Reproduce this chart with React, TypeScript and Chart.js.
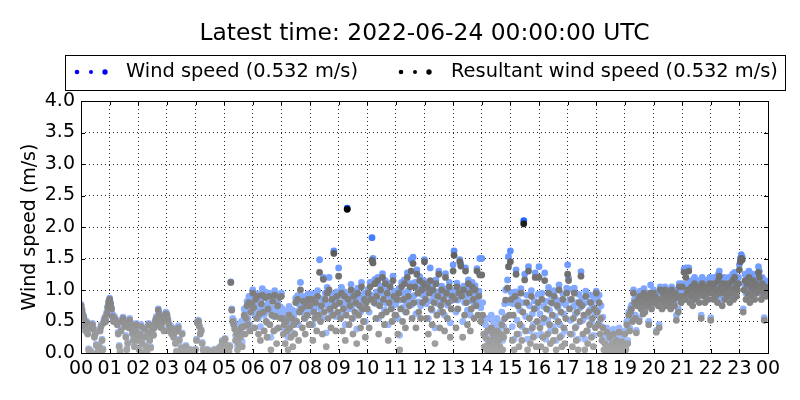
import React, { useEffect, useRef } from "react";
import { Chart, registerables } from "chart.js";

Chart.register(...registerables);

const titleText = "Latest time: 2022-06-24 00:00:00 UTC";
const windLabel = "Wind speed (0.532 m/s)";
const resultantLabel = "Resultant wind speed (0.532 m/s)";
const yAxisTitle = "Wind speed (m/s)";
const hourLabels = ["00","01","02","03","04","05","06","07","08","09","10","11","12","13","14","15","16","17","18","19","20","21","22","23","00"];
const yTickValues = [0, 0.5, 1, 1.5, 2, 2.5, 3, 3.5, 4];

// resultant wind speed, 30 readings per hour (m/s)
const resultantByHour: number[][] = [
  [0.75,0.68,0.60,0.55,0.42,0.35,0.48,0.30,0.05,0.00,0.02,0.40,0.45,0.38,0.25,0.30,0.12,0.00,0.03,0.10,0.35,0.42,0.20,0.05,0.48,0.55,0.50,0.62,0.72,0.80],
  [0.85,0.78,0.70,0.58,0.50,0.55,0.52,0.48,0.45,0.30,0.10,0.02,0.35,0.50,0.55,0.48,0.42,0.25,0.05,0.15,0.40,0.52,0.45,0.38,0.30,0.20,0.10,0.35,0.45,0.25],
  [0.20,0.05,0.30,0.42,0.15,0.00,0.25,0.38,0.10,0.02,0.30,0.45,0.20,0.08,0.35,0.42,0.28,0.40,0.50,0.55,0.45,0.68,0.60,0.52,0.40,0.48,0.58,0.35,0.55,0.62],
  [0.60,0.52,0.45,0.35,0.40,0.30,0.38,0.25,0.32,0.15,0.02,0.35,0.40,0.20,0.00,0.08,0.30,0.05,0.00,0.02,0.10,0.00,0.03,0.00,0.05,0.00,0.02,0.00,0.04,0.00],
  [0.05,0.20,0.48,0.50,0.42,0.30,0.35,0.15,0.05,0.00,0.02,0.00,0.05,0.00,0.00,0.03,0.00,0.00,0.02,0.00,0.05,0.00,0.00,0.02,0.00,0.08,0.00,0.10,0.18,0.05],
  [0.15,0.22,0.05,0.12,0.00,0.02,0.10,1.12,0.68,0.50,0.45,0.38,0.20,0.30,0.05,0.15,0.35,0.25,0.40,0.10,0.42,0.60,0.30,0.55,0.75,0.45,0.80,0.35,0.65,0.78],
  [0.95,0.72,0.40,0.85,0.55,0.90,0.30,0.62,0.20,0.78,0.92,0.65,0.35,0.88,0.50,0.25,0.70,0.90,0.45,0.05,0.60,0.82,0.35,0.92,0.58,0.15,0.75,0.40,0.88,0.55],
  [0.90,0.55,0.30,0.45,0.15,0.50,0.35,0.05,0.60,0.40,0.25,0.55,0.10,0.45,0.30,0.80,0.50,0.85,0.20,0.65,1.00,0.70,0.40,0.82,0.55,0.30,0.75,0.60,0.85,0.45],
  [0.75,0.45,0.85,0.20,0.65,0.55,0.80,0.35,0.90,0.60,1.28,0.50,0.75,0.30,1.17,0.65,0.85,0.10,0.95,0.55,1.00,0.70,0.40,0.85,0.60,1.58,0.75,0.35,0.90,0.65],
  [1.22,0.80,0.55,0.95,0.35,0.70,0.90,0.20,0.60,2.28,0.85,0.45,0.75,1.00,0.55,0.30,0.90,0.65,0.80,0.15,0.95,0.60,0.75,0.40,1.05,0.70,0.50,0.85,0.25,0.80],
  [0.70,0.95,0.40,1.05,0.85,1.47,1.43,0.80,1.10,0.55,0.90,1.15,0.30,0.75,1.00,0.60,1.20,0.85,0.45,1.10,0.65,0.95,0.20,0.80,1.05,0.70,0.50,1.15,0.90,0.60],
  [0.60,0.85,0.30,0.95,0.05,0.70,1.05,0.50,0.85,1.10,0.40,0.65,1.20,0.90,0.75,1.05,1.30,0.55,1.42,0.80,1.05,0.40,1.25,0.95,0.65,1.15,0.55,1.00,0.80,1.10],
  [1.45,0.85,0.55,1.05,0.30,0.95,1.15,0.70,0.45,1.00,0.80,0.15,1.10,0.60,0.90,1.25,0.40,0.75,1.00,0.65,0.85,0.35,1.20,0.95,0.55,0.80,1.05,0.25,0.70,0.90],
  [1.30,1.55,0.85,0.40,1.05,0.70,0.95,1.45,1.38,0.90,0.25,1.00,0.60,1.30,0.80,0.45,1.10,0.95,0.35,0.70,1.05,0.85,0.55,1.00,0.75,1.30,0.60,0.90,1.24,0.50],
  [1.24,0.60,0.30,0.10,0.25,0.05,0.35,0.15,0.00,0.20,0.40,0.10,0.30,0.05,0.25,0.15,0.35,0.00,0.20,0.10,0.30,0.45,0.05,0.25,0.55,0.84,0.35,1.03,1.37,0.60],
  [1.45,0.85,0.20,0.60,0.05,0.90,1.25,0.30,0.75,0.10,0.45,0.95,0.20,0.65,2.05,1.16,0.35,0.80,0.05,1.30,0.55,0.15,0.90,0.40,0.25,0.70,1.20,0.10,0.50,0.80],
  [1.20,0.40,0.10,0.85,0.25,0.55,1.15,0.05,0.70,0.30,0.95,0.45,0.15,0.80,0.60,0.20,0.90,0.35,0.05,0.75,0.50,1.00,0.25,0.65,0.10,0.85,0.40,0.15,0.55,0.95],
  [1.25,1.15,0.70,0.30,0.85,0.10,0.55,0.95,0.40,0.20,0.65,0.05,0.80,0.50,1.22,0.75,0.30,0.60,0.05,0.90,0.35,0.15,0.65,0.45,0.80,0.25,0.55,0.10,0.70,0.40],
  [0.95,0.65,0.45,0.80,0.30,0.55,0.20,0.40,0.05,0.15,0.00,0.33,0.10,0.02,0.25,0.05,0.00,0.15,0.30,0.02,0.08,0.20,0.00,0.12,0.33,0.05,0.00,0.18,0.02,0.10],
  [0.30,0.05,0.45,0.15,0.60,0.35,0.65,0.70,0.50,0.95,0.80,0.55,0.32,0.75,0.85,0.50,0.90,0.70,0.80,0.62,0.95,0.65,0.85,0.75,0.90,0.45,0.80,0.95,0.70,0.88],
  [0.95,0.80,0.90,0.33,0.85,0.75,0.40,1.00,0.85,0.70,0.95,0.80,1.00,0.90,0.75,0.85,0.95,0.80,0.70,1.00,0.90,0.85,0.75,0.95,0.52,0.88,0.65,1.05,0.90,0.80],
  [1.05,0.90,1.28,0.85,1.20,0.95,1.00,1.30,0.80,0.90,1.05,0.75,0.95,1.10,0.85,1.00,0.90,1.05,0.80,0.95,0.55,1.10,1.00,0.90,0.80,1.05,0.95,0.85,1.00,1.10],
  [0.52,0.95,1.05,0.85,1.10,0.90,1.00,0.80,1.15,1.22,0.95,1.05,0.75,1.00,1.10,0.85,0.95,1.05,0.90,1.10,0.80,1.00,0.95,1.15,0.85,1.20,1.05,0.90,1.00,1.10],
  [1.32,1.45,1.50,1.48,0.65,1.00,1.15,0.85,1.10,0.95,1.20,0.80,1.05,0.90,1.15,1.00,0.85,1.10,0.95,1.05,1.28,1.20,1.00,0.85,1.10,0.95,0.52,1.05,0.90,1.00],
];

// scalar wind speed, 30 readings per hour (m/s)
const windByHour: number[][] = [
  [0.77,0.70,0.62,0.58,0.45,0.37,0.50,0.33,0.07,0.01,0.04,0.43,0.47,0.40,0.28,0.33,0.14,0.01,0.05,0.12,0.38,0.45,0.22,0.07,0.52,0.57,0.53,0.65,0.74,0.82],
  [0.87,0.80,0.72,0.62,0.53,0.58,0.55,0.50,0.48,0.33,0.12,0.03,0.38,0.53,0.57,0.50,0.45,0.28,0.07,0.17,0.43,0.55,0.48,0.40,0.32,0.22,0.12,0.38,0.47,0.27],
  [0.22,0.06,0.32,0.45,0.17,0.01,0.27,0.40,0.12,0.03,0.32,0.47,0.22,0.10,0.37,0.45,0.30,0.43,0.53,0.58,0.48,0.70,0.63,0.55,0.42,0.50,0.60,0.37,0.58,0.65],
  [0.62,0.55,0.47,0.37,0.43,0.33,0.40,0.27,0.35,0.17,0.03,0.37,0.43,0.22,0.01,0.10,0.32,0.06,0.01,0.03,0.12,0.01,0.04,0.01,0.06,0.01,0.03,0.01,0.05,0.01],
  [0.06,0.22,0.50,0.52,0.44,0.32,0.37,0.17,0.06,0.01,0.03,0.01,0.06,0.01,0.01,0.04,0.01,0.01,0.03,0.01,0.06,0.01,0.01,0.03,0.01,0.09,0.01,0.12,0.20,0.06],
  [0.16,0.23,0.06,0.13,0.01,0.03,0.12,1.13,0.70,0.55,0.52,0.45,0.28,0.38,0.12,0.22,0.45,0.35,0.50,0.18,0.52,0.70,0.42,0.65,0.82,0.55,0.90,0.45,0.75,0.85],
  [1.00,0.78,0.62,0.91,0.75,0.94,0.55,0.70,0.42,0.86,1.02,0.74,0.60,0.97,0.66,0.48,0.79,0.95,0.68,0.25,0.71,0.88,0.58,0.99,0.69,0.38,0.80,0.62,0.92,0.73],
  [0.95,0.70,0.55,0.62,0.38,0.66,0.58,0.25,0.74,0.62,0.48,0.69,0.32,0.60,0.52,0.87,0.66,0.91,0.45,0.76,1.12,0.79,0.65,0.90,0.72,0.55,0.84,0.74,0.94,0.64],
  [0.83,0.68,0.94,0.45,0.77,0.72,0.90,0.60,0.99,0.75,1.48,0.70,0.86,0.55,1.20,0.78,0.95,0.32,1.04,0.73,1.20,0.80,0.65,0.93,0.76,1.62,0.84,0.58,0.97,0.79],
  [1.35,0.91,0.78,1.04,0.60,0.80,0.97,0.45,0.76,2.30,0.93,0.70,0.83,1.09,0.72,0.55,0.98,0.79,0.90,0.38,1.03,0.76,0.88,0.65,1.12,0.81,0.72,0.95,0.50,0.89],
  [0.84,1.01,0.65,1.12,0.92,1.83,1.50,0.86,1.17,0.78,0.97,1.20,0.55,0.82,1.06,0.80,1.26,0.93,0.68,1.15,0.79,1.02,0.45,0.90,1.10,0.83,0.72,1.22,0.98,0.77],
  [0.79,0.93,0.55,1.02,0.28,0.84,1.12,0.72,0.95,1.16,0.65,0.80,1.27,0.99,0.86,1.10,1.48,0.77,1.52,0.91,1.12,0.62,1.32,1.01,0.81,1.21,0.75,1.07,0.92,1.15],
  [1.48,0.94,0.78,1.11,0.55,1.01,1.35,0.83,0.68,1.07,0.91,0.40,1.16,0.79,0.97,1.30,0.65,0.84,1.06,0.80,0.95,0.60,1.26,1.02,0.76,0.92,1.12,0.48,0.83,0.99],
  [1.40,1.62,0.95,0.65,1.11,0.84,1.03,1.48,1.42,0.97,0.50,1.06,0.80,1.35,0.91,0.68,1.16,1.01,0.60,0.83,1.12,0.94,0.78,1.07,0.86,1.34,0.79,0.98,1.50,0.72],
  [1.50,0.80,0.52,0.30,0.45,0.22,0.55,0.35,0.12,0.40,0.60,0.28,0.50,0.20,0.45,0.32,0.55,0.10,0.38,0.25,0.48,0.65,0.20,0.42,0.78,1.00,0.58,1.16,1.53,0.80],
  [1.62,0.96,0.42,0.78,0.22,0.97,1.32,0.52,0.84,0.30,0.68,1.02,0.42,0.80,2.10,1.25,0.58,0.92,0.22,1.37,0.75,0.35,0.99,0.62,0.45,0.83,1.27,0.28,0.72,0.93],
  [1.37,0.62,0.30,0.95,0.48,0.74,1.27,0.22,0.82,0.52,1.04,0.68,0.35,0.91,0.79,0.42,0.99,0.58,0.20,0.84,0.72,1.08,0.45,0.80,0.28,0.94,0.62,0.35,0.76,1.03],
  [1.40,1.19,0.84,0.52,1.01,0.30,0.74,1.03,0.62,0.42,0.80,0.22,0.93,0.72,1.29,0.86,0.52,0.78,0.22,0.98,0.58,0.35,0.81,0.68,0.92,0.48,0.75,0.28,0.85,0.62],
  [0.98,0.85,0.68,0.92,0.52,0.75,0.42,0.57,0.18,0.28,0.05,0.40,0.20,0.08,0.35,0.12,0.05,0.22,0.38,0.06,0.15,0.28,0.04,0.18,0.40,0.10,0.04,0.25,0.06,0.15],
  [0.35,0.10,0.50,0.20,0.65,0.40,0.72,0.76,0.55,1.00,0.85,0.60,0.36,0.80,0.90,0.55,0.98,0.75,0.85,0.68,1.02,0.70,0.90,0.80,0.95,0.50,0.85,1.08,0.75,0.93],
  [1.00,0.85,0.95,0.36,0.90,0.80,0.45,1.05,0.92,0.75,1.00,0.85,1.05,0.95,0.80,0.90,1.00,0.85,0.75,1.05,0.95,0.90,0.80,1.00,0.60,0.93,0.70,1.10,0.95,0.85],
  [1.10,0.98,1.33,0.95,1.35,1.05,1.10,1.35,0.90,1.00,1.15,0.85,1.05,1.20,0.95,1.10,1.00,1.15,0.90,1.05,0.60,1.20,1.10,1.00,0.90,1.15,1.05,0.95,1.10,1.20],
  [0.56,1.05,1.15,0.95,1.20,1.00,1.10,0.90,1.25,1.30,1.05,1.15,0.85,1.10,1.20,0.95,1.05,1.15,1.00,1.20,0.90,1.10,1.05,1.25,0.95,1.28,1.15,1.00,1.10,1.20],
  [1.40,1.50,1.56,1.52,0.70,1.10,1.25,0.95,1.20,1.05,1.30,0.90,1.15,1.00,1.25,1.10,0.95,1.20,1.05,1.15,1.37,1.30,1.10,0.95,1.20,1.05,0.56,1.15,1.00,1.10],
];

const FONT = "'DejaVu Sans', sans-serif";

function strength(v: number): number {
  if (v <= 1.5) return 0.35 + 0.17 * v;
  return Math.min(1, 0.605 + (v - 1.5) * 0.5);
}

function grayFor(v: number): string {
  const a = strength(v);
  const c = Math.round(255 * (1 - a));
  return `rgb(${c},${c},${c})`;
}

function blueFor(v: number): string {
  const a = strength(v);
  const r = Math.round(255 * (1 - a) + 10 * a);
  const g = Math.round(255 * (1 - a) + 85 * a);
  return `rgb(${r},${g},255)`;
}

function toPoints(rows: number[][]) {
  return rows.flatMap((row, h) => row.map((v, i) => ({ x: h + i / row.length, y: v })));
}

const decorPlugin = {
  id: "decor",
  afterDraw(chart: any) {
    const { ctx, chartArea, scales } = chart;
    const { left, right, top, bottom } = chartArea;
    ctx.save();
    ctx.strokeStyle = "#000";
    ctx.lineWidth = 1;
    ctx.beginPath();
    hourLabels.forEach((_, i) => {
      const x = Math.round(scales.x.getPixelForValue(i)) + 0.5;
      ctx.moveTo(x, bottom);
      ctx.lineTo(x, bottom - 4);
      ctx.moveTo(x, top);
      ctx.lineTo(x, top + 4);
    });
    yTickValues.forEach((v) => {
      const y = Math.round(scales.y.getPixelForValue(v)) + 0.5;
      ctx.moveTo(left, y);
      ctx.lineTo(left + 4, y);
      ctx.moveTo(right, y);
      ctx.lineTo(right - 4, y);
    });
    ctx.stroke();
    ctx.strokeRect(Math.round(left) + 0.5, Math.round(top) + 0.5, Math.round(right - left), Math.round(bottom - top));

    ctx.fillStyle = "#000";
    ctx.font = `23.4px ${FONT}`;
    ctx.textAlign = "center";
    ctx.textBaseline = "middle";
    ctx.fillText(titleText, (left + right) / 2, 34);

    ctx.fillStyle = "#fff";
    ctx.fillRect(65.5, 55.5, 720, 35);
    ctx.strokeStyle = "#000";
    ctx.strokeRect(65.5, 55.5, 720, 35);
    const ly = 72;
    const dotSizes = [2.3, 2.0, 2.7];
    const drawDots = (x0: number, color: string) => {
      ctx.fillStyle = color;
      [0, 14, 28].forEach((dx, k) => {
        ctx.beginPath();
        ctx.arc(x0 + dx, ly, dotSizes[k], 0, Math.PI * 2);
        ctx.fill();
      });
    };
    drawDots(77, "#0000ff");
    drawDots(401, "#000");
    ctx.fillStyle = "#000";
    ctx.font = `19.4px ${FONT}`;
    ctx.textAlign = "left";
    ctx.fillText(windLabel, 126, ly);
    ctx.fillText(resultantLabel, 451, ly);

    ctx.save();
    ctx.translate(30, (top + bottom) / 2);
    ctx.rotate(-Math.PI / 2);
    ctx.textAlign = "center";
    ctx.font = `19px ${FONT}`;
    ctx.fillText(yAxisTitle, 0, 0);
    ctx.restore();
    ctx.restore();
  },
};

export default function App() {
  const ref = useRef<HTMLCanvasElement>(null);
  useEffect(() => {
    document.body.style.margin = "0";
    const canvas = ref.current;
    if (!canvas) return;
    const chart = new Chart(canvas, {
      type: "scatter",
      data: {
        datasets: [
          {
            label: resultantLabel,
            data: toPoints(resultantByHour),
            pointRadius: 3.4,
            pointBorderWidth: 0,
            pointBackgroundColor: (c: any) => grayFor(c.raw ? c.raw.y : 0),
            clip: 0,
          } as any,
          {
            label: windLabel,
            data: toPoints(windByHour),
            pointRadius: 3.4,
            pointBorderWidth: 0,
            pointBackgroundColor: (c: any) => blueFor(c.raw ? c.raw.y : 0),
            clip: 0,
          } as any,
        ],
      },
      options: {
        animation: false,
        responsive: false,
        devicePixelRatio: 1,
        layout: { padding: { left: 0, right: 32, top: 101, bottom: 0 } },
        plugins: {
          legend: { display: false },
          tooltip: { enabled: false },
          title: { display: false },
        },
        scales: {
          x: {
            type: "linear",
            min: 0,
            max: 24,
            afterBuildTicks: (s: any) => {
              s.ticks = hourLabels.map((_, i) => ({ value: i }));
            },
            afterFit: (s: any) => {
              s.height = 47;
            },
            ticks: {
              autoSkip: false,
              maxRotation: 0,
              padding: 5,
              color: "#000",
              font: { family: FONT, size: 19 },
              callback: (v: any) => hourLabels[Math.round(Number(v))],
            },
            grid: { color: "rgba(0,0,0,0.85)", lineWidth: 1, drawTicks: false },
            border: { display: false, dash: [1, 3] },
          },
          y: {
            type: "linear",
            min: 0,
            max: 4,
            afterBuildTicks: (s: any) => {
              s.ticks = yTickValues.map((v) => ({ value: v }));
            },
            afterFit: (s: any) => {
              s.width = 81;
            },
            ticks: {
              padding: 6,
              color: "#000",
              font: { family: FONT, size: 19 },
              callback: (v: any) => Number(v).toFixed(1),
            },
            grid: { color: "rgba(0,0,0,0.85)", lineWidth: 1, drawTicks: false },
            border: { display: false, dash: [1, 3] },
          },
        },
      },
      plugins: [decorPlugin],
    } as any);
    return () => chart.destroy();
  }, []);
  return (
    <div style={{ position: "absolute", left: 0, top: 0, width: 800, height: 400, background: "#fff" }}>
      <canvas ref={ref} width={800} height={400} style={{ display: "block", width: 800, height: 400 }} />
    </div>
  );
}
